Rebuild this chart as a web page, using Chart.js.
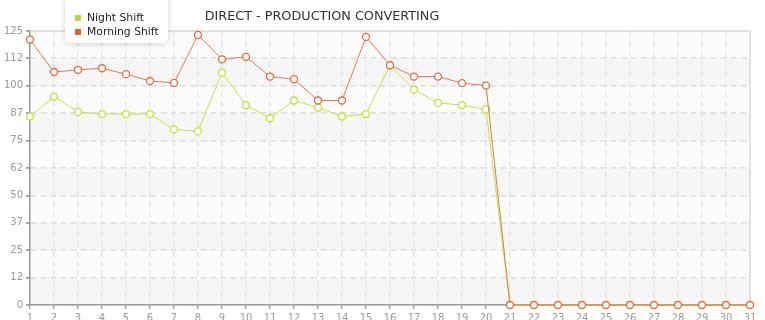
<!DOCTYPE html>
<html>
<head>
<meta charset="utf-8">
<script src="https://cdn.jsdelivr.net/npm/chart.js@4.4.1/dist/chart.umd.min.js"></script>
<style>
  html, body { margin: 0; padding: 0; overflow: hidden; background: #fff; }
  #wrap { position: relative; width: 765px; height: 330px; }
</style>
</head>
<body>
<div id="wrap"><canvas id="chartId"></canvas></div>
<script>
var days = ['1','2','3','4','5','6','7','8','9','10','11','12','13','14','15','16',
            '17','18','19','20','21','22','23','24','25','26','27','28','29','30','31'];
var nightShift = [86.0, 95.1, 88.1, 87.1, 87.1, 87.1, 80.1, 79.2, 106.0, 91.2, 85.2, 93.3, 90.1, 86.0, 87.1,
                  109.4, 98.3, 92.2, 91.2, 89.2, 0, 0, 0, 0, 0, 0, 0, 0, 0, 0, 0];
var morningShift = [121.1, 106.3, 107.3, 108.0, 105.3, 102.2, 101.3, 123.2, 112.1, 113.2, 104.2, 103.0, 93.3, 93.3, 122.3,
                    109.4, 104.2, 104.2, 101.2, 100.1, 0, 0, 0, 0, 0, 0, 0, 0, 0, 0, 0];
var yTickLabels = ['0', '12', '25', '37', '50', '62', '75', '87', '100', '112', '125'];
var chartTitle = 'DIRECT - PRODUCTION CONVERTING';

var FONT = '"DejaVu Sans", Verdana, sans-serif';

// diagonal hatch used behind the plot
function makeHatch(ctx) {
  var c = document.createElement('canvas');
  c.width = 4; c.height = 4;
  var p = c.getContext('2d');
  p.strokeStyle = 'rgba(0,0,0,0.045)';
  p.lineWidth = 1;
  p.beginPath();
  p.moveTo(0, 4); p.lineTo(4, 0);
  p.moveTo(-1, 1); p.lineTo(1, -1);
  p.moveTo(3, 5); p.lineTo(5, 3);
  p.stroke();
  return ctx.createPattern(c, 'repeat');
}

var backdrop = {
  id: 'backdrop',
  beforeDraw: function (chart) {
    var ctx = chart.ctx, a = chart.chartArea, y = chart.scales.y;
    ctx.save();
    ctx.fillStyle = '#fff';
    ctx.fillRect(a.left, a.top, a.right - a.left, a.bottom - a.top);
    ctx.fillStyle = '#f9f9f9';
    for (var v = 0; v < 125; v += 25) {
      var y0 = y.getPixelForValue(v), y1 = y.getPixelForValue(v + 12.5);
      ctx.fillRect(a.left, y1, a.right - a.left, y0 - y1);
    }
    ctx.fillStyle = makeHatch(ctx);
    ctx.fillRect(a.left, a.top, a.right - a.left, a.bottom - a.top);
    ctx.restore();
  },
  beforeDatasetsDraw: function (chart) {
    var ctx = chart.ctx, a = chart.chartArea;
    ctx.save();
    ctx.strokeStyle = '#dcdcdc';
    ctx.lineWidth = 1.5;
    ctx.beginPath();
    ctx.moveTo(a.left, a.top); ctx.lineTo(a.right, a.top); ctx.lineTo(a.right, a.bottom);
    ctx.stroke();
    ctx.restore();
  },
  afterDraw: function (chart) {
    var ctx = chart.ctx;
    ctx.save();
    // title
    ctx.font = '12.8px ' + FONT;
    ctx.fillStyle = '#333';
    ctx.textAlign = 'center';
    ctx.textBaseline = 'middle';
    ctx.fillText(chartTitle, 322, 17);
    // legend box
    ctx.shadowColor = 'rgba(0,0,0,0.18)';
    ctx.shadowBlur = 6;
    ctx.shadowOffsetY = 1;
    ctx.fillStyle = '#fff';
    ctx.beginPath();
    ctx.roundRect(65, -8, 103, 51, 5);
    ctx.fill();
    ctx.shadowColor = 'transparent';
    ctx.font = '10.8px ' + FONT;
    ctx.textAlign = 'left';
    chart.data.datasets.forEach(function (ds, i) {
      var yy = 18 + i * 14;
      ctx.fillStyle = ds.legendColor;
      ctx.fillRect(75, yy - 3, 6, 6);
      ctx.fillStyle = '#222';
      ctx.fillText(ds.label, 87, yy);
    });
    ctx.restore();
  }
};

new Chart(document.getElementById('chartId'), {
  type: 'line',
  plugins: [backdrop],
  data: {
    labels: days,
    datasets: [{
      label: 'Night Shift',
      data: nightShift,
      order: 1,
      borderColor: '#c9e13f',
      legendColor: '#bcd92a',
      pointBorderColor: '#c4de35',
      pointBackgroundColor: '#fff',
      borderWidth: 1,
      pointRadius: 3.5,
      pointBorderWidth: 1.3,
      tension: 0,
      clip: false
    }, {
      label: 'Morning Shift',
      data: morningShift,
      order: 0,
      borderColor: '#e8774a',
      legendColor: '#e0622e',
      pointBorderColor: '#e2693a',
      pointBackgroundColor: '#fff',
      borderWidth: 1,
      pointRadius: 3.5,
      pointBorderWidth: 1.3,
      tension: 0,
      clip: false
    }]
  },
  options: {
    responsive: true,
    maintainAspectRatio: false,
    animation: false,
    layout: { padding: { top: 31, right: 15, left: 0, bottom: 0 } },
    plugins: {
      legend: { display: false },
      tooltip: { enabled: false },
      title: { display: false }
    },
    scales: {
      x: {
        offset: false,
        afterFit: function (scale) { scale.height = 25; },
        grid: {
          color: '#e2e2e2',
          lineWidth: 1.3,
          tickLength: 4,
          tickColor: '#9a9a9a',
          tickBorderDash: []
        },
        border: { color: '#9a9a9a', width: 1.5, dash: [6, 4] },
        ticks: {
          color: '#999',
          font: { family: FONT, size: 10 },
          autoSkip: false,
          maxRotation: 0,
          padding: 3
        }
      },
      y: {
        min: 0,
        max: 125,
        afterFit: function (scale) { scale.width = 30; },
        grid: {
          color: '#e0e0e0',
          lineWidth: 1.8,
          tickLength: 4,
          tickColor: '#9a9a9a',
          tickBorderDash: []
        },
        border: { color: '#9a9a9a', width: 1.5, dash: [6, 4] },
        ticks: {
          stepSize: 12.5,
          color: '#999',
          font: { family: FONT, size: 10 },
          padding: 3,
          callback: function (value, index) { return yTickLabels[index]; }
        }
      }
    }
  }
});
</script>
</body>
</html>
